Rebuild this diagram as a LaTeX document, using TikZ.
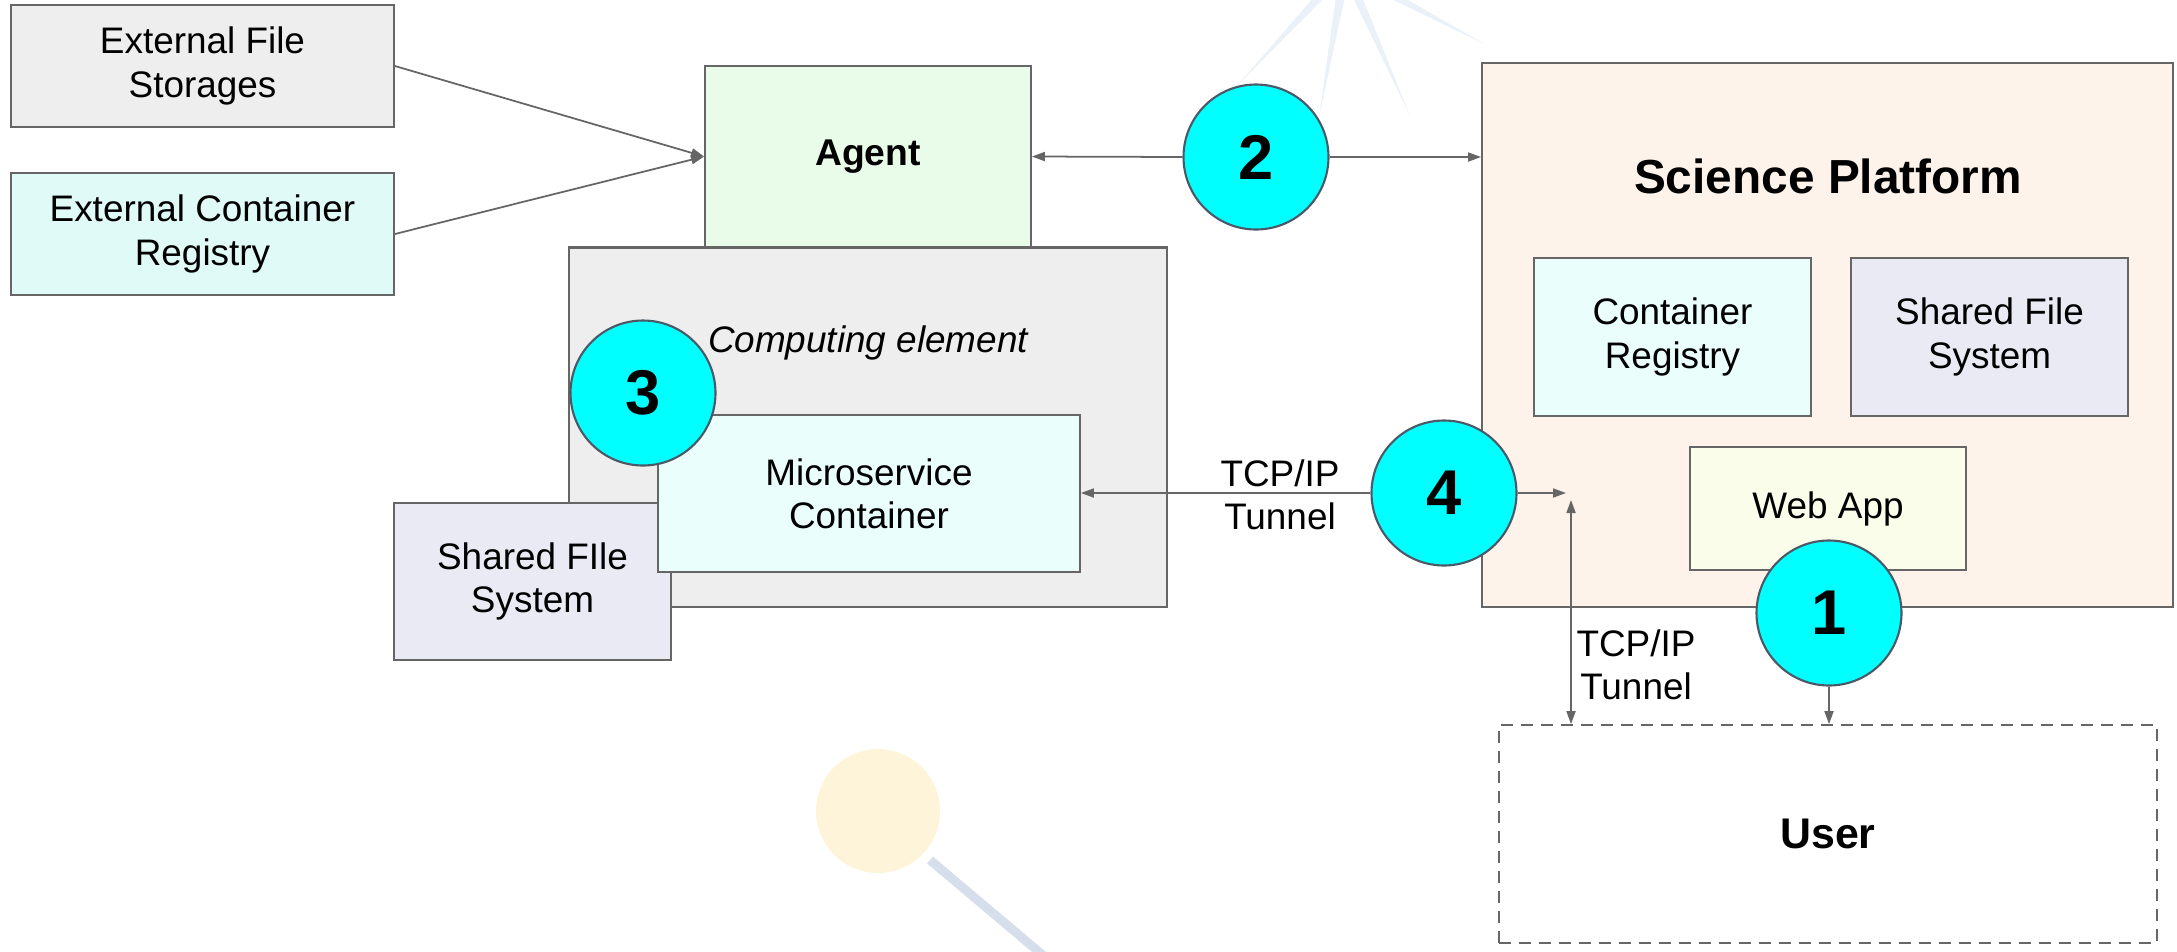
\documentclass[tikz,border=0pt]{standalone}
\usepackage{fontspec}
\setmainfont{Liberation Sans}
\usetikzlibrary{arrows.meta}
\definecolor{linegray}{HTML}{666666}
\definecolor{rimgray}{HTML}{4B5866}
\definecolor{storegray}{HTML}{EEEEEE}
\definecolor{regcyan}{HTML}{E0FBF7}
\definecolor{agentgreen}{HTML}{E9FCE9}
\definecolor{microcyan}{HTML}{EAFEFC}
\definecolor{fslilac}{HTML}{EAEAF5}
\definecolor{platpeach}{HTML}{FDF3EA}
\definecolor{webyellow}{HTML}{FAFDEA}
\definecolor{markcyan}{HTML}{00FFFF}
\definecolor{wmblue}{HTML}{EBF1F9}
\definecolor{wmyellow}{HTML}{FDF4DA}
\definecolor{wmstick}{HTML}{D6DDEB}

\begin{document}
\begin{tikzpicture}[x=0.1mm,y=-0.1mm,
    >={Triangle[length=1.3mm,width=0.9mm]},
    box/.style={rectangle,draw=linegray,line width=0.5pt,inner sep=0pt,align=center,
        font=\fontsize{10.5}{12.3}\selectfont},
    num/.style={circle,draw=rimgray,fill=markcyan,line width=0.6pt,inner sep=0pt,
        minimum size=14.5mm,font=\fontsize{18}{18}\bfseries\selectfont},
    conn/.style={draw=linegray,line width=0.5pt,->},
    lbl/.style={align=center,inner sep=0pt,font=\fontsize{10.5}{12.3}\selectfont}]
    \clip (0,0) rectangle (2177,951);
    % faint background marks
    \begin{scope}[shift={(1345,-30)}]
        \fill[wmblue] (170:160) -- (152:16) -- (133:160) -- (117:16) -- (100:150) -- (82:16)
            -- (66:160) -- (47:16) -- (28:160) -- (10:16) -- (-10:150) -- (-90:30) -- (190:30) -- cycle;
    \end{scope}
    \fill[wmyellow] (878,811) circle (62);
    \draw[white,line width=1.2pt] (838,760) arc (150:225:55);
    \draw[wmstick,line width=0.9mm] (930,860) -- (1045,957);
    % left side
    \node[box,fill=storegray,minimum width=38.3mm,minimum height=12.2mm] (extfs) at (202.5,66) {External File\\Storages};
    \node[box,fill=regcyan,minimum width=38.3mm,minimum height=12.2mm] (extreg) at (202.5,234) {External Container\\Registry};
    \node[box,fill=storegray,minimum width=59.8mm,minimum height=35.9mm] (compel) at (868,427.5) {};
    \node[box,fill=agentgreen,minimum width=32.6mm,minimum height=18.1mm,font=\fontsize{10.6}{12}\bfseries\selectfont] (agent) at (868,156.5) {Agent};
    \draw[linegray,line width=0.5pt] (compel.north west) -- (compel.north east);
    \node[lbl,font=\fontsize{10.5}{12}\itshape\selectfont] (celabel) at (868,343) {Computing element};
    \node[box,fill=fslilac,minimum width=27.7mm,minimum height=15.7mm] (sfsl) at (532.5,581.5) {Shared FIle\\System};
    \node[box,fill=microcyan,minimum width=42.2mm,minimum height=15.7mm] (micro) at (869,493.5) {Microservice\\Container};
    % right side
    \node[box,fill=platpeach,minimum width=69.1mm,minimum height=54.4mm] (sp) at (1827.5,335) {};
    \node[lbl,font=\fontsize{13.6}{15}\bfseries\selectfont] (sptitle) at (1828,176) {Science Platform};
    \node[box,fill=microcyan,minimum width=27.7mm,minimum height=15.8mm] (creg) at (1672.5,337) {Container\\Registry};
    \node[box,fill=fslilac,minimum width=27.7mm,minimum height=15.8mm] (sfsr) at (1989.5,337) {Shared File\\System};
    \node[box,fill=webyellow,minimum width=27.6mm,minimum height=12.3mm] (webapp) at (1828,508.5) {Web App};
    \node[box,dashed,dash pattern=on 1.2mm off 0.8mm,fill=none,minimum width=65.8mm,minimum height=21.8mm,
        font=\fontsize{12.2}{14}\bfseries\selectfont] (user) at (1828,834) {User};
    % numbered marks
    \node[num] (c1) at (1829,613) {1};
    \node[num] (c2) at (1256,157) {2};
    \node[num] (c3) at (643,393) {3};
    \node[num] (c4) at (1444,493) {4};
    % connectors
    \draw[conn] (extfs.east) -- (agent.west);
    \draw[conn] (extreg.east) -- (agent.west);
    \draw[conn] (c2.west) -- (agent.east);
    \draw[conn] (c2.east) -- (c2.east -| sp.west);
    \draw[conn] (c4.west) -- (c4.west -| micro.east);
    \coordinate (tunend) at (1566,493);
    \draw[conn] (c4.east) -- (tunend);
    \coordinate (tuntop) at (1571,500);
    \draw[conn,<->] (tuntop) -- (tuntop |- user.north);
    \draw[conn] (c1.south) -- (c1.south |- user.north);
    \node[lbl] (tcph) at (1280,495) {TCP/IP\\Tunnel};
    \node[lbl] (tcpv) at (1636,665) {TCP/IP\\Tunnel};
\end{tikzpicture}
\end{document}
